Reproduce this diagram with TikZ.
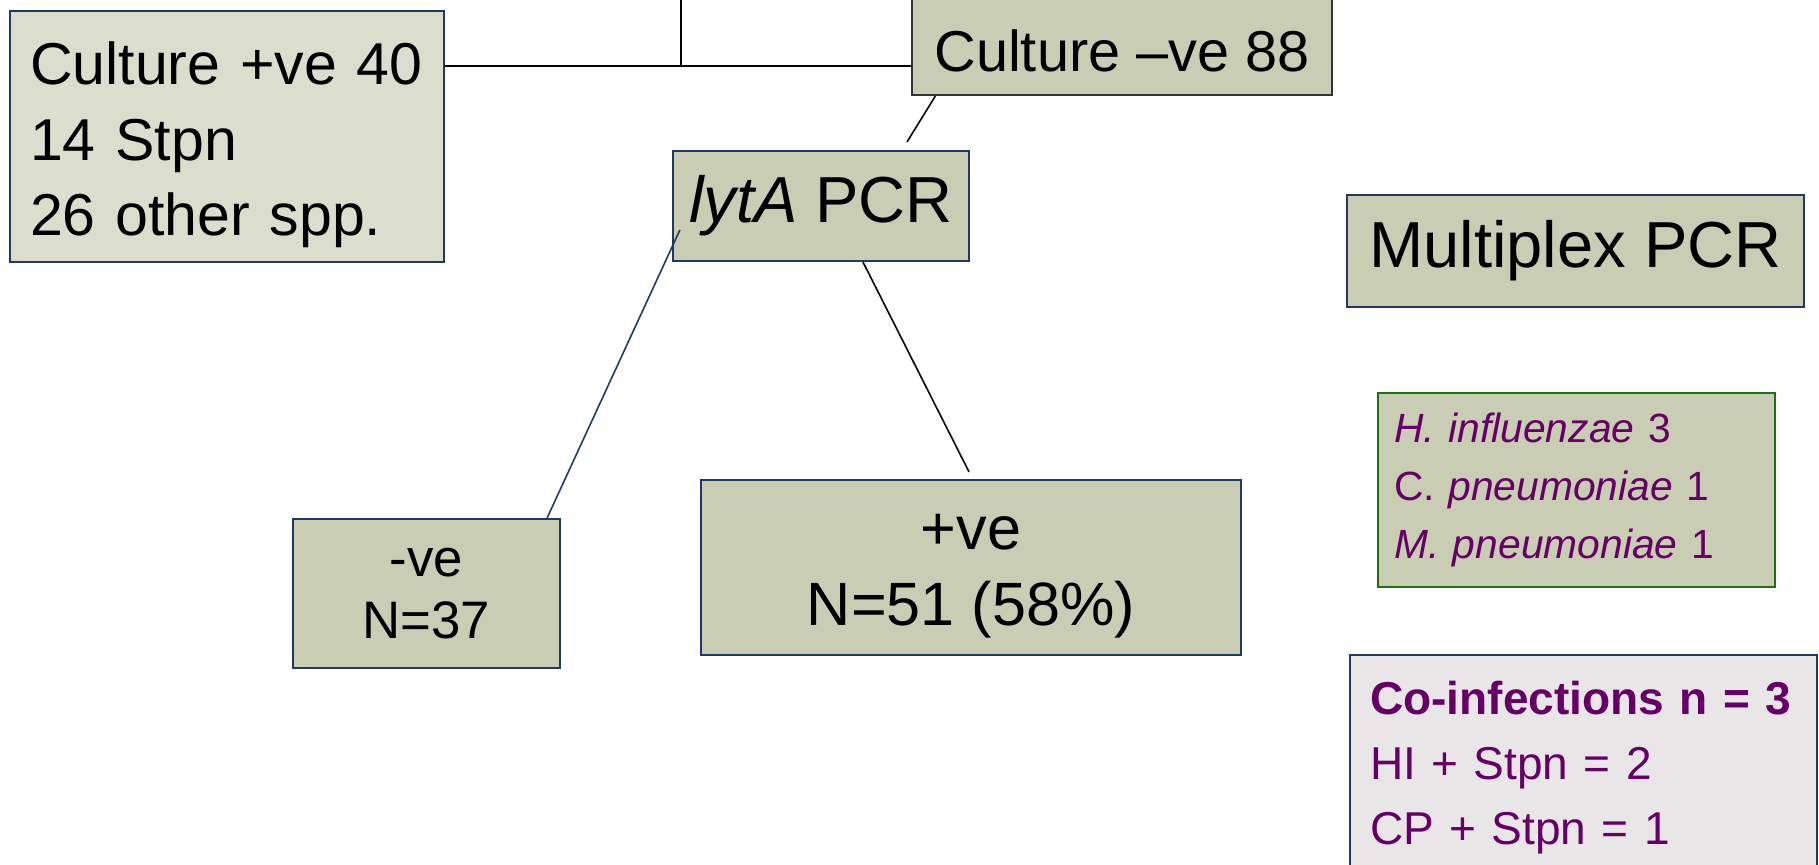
\documentclass[tikz,border=0pt]{standalone}
\usepackage{fontspec}
\setmainfont{Liberation Sans}
\usetikzlibrary{calc}
\definecolor{boxfill}{RGB}{201,205,180}
\definecolor{palefill}{RGB}{220,222,205}
\definecolor{greyfill}{RGB}{233,230,232}
\definecolor{navy}{RGB}{31,56,100}
\definecolor{leafgreen}{RGB}{30,110,20}
\definecolor{plum}{RGB}{102,0,102}
\tikzset{
  box/.style={draw=navy, line width=0.6pt, fill=boxfill, inner sep=0pt},
  link/.style={line width=0.45pt},
}
\begin{document}
\begin{tikzpicture}[x=0.01cm, y=-0.01cm]
              \useasboundingbox (0,0) rectangle (1819,864);
              \clip (0,0) rectangle (1819,864);
              \node (culpos) at (9,10) [box, fill=palefill, anchor=north west, minimum height=2.51cm, text width=4.1cm, inner xsep=0.12cm, align=left, font=\fontsize{16.8}{21.6}\selectfont] {\rule{0pt}{1em}\hspace{0.08cm}Culture +ve 40\\\hspace{0.08cm}14 Stpn\\\hspace{0.08cm}26 other spp.};
              \node (culneg) at (1122,72) [box, draw=black!80, anchor=base, minimum width=4.19cm, text height=0.84cm, text depth=0.23cm, font=\fontsize{16.4}{20}\selectfont] {Culture –ve 88};
              \node (lyta) at (821,206) [box, minimum width=2.96cm, minimum height=1.10cm, font=\fontsize{18.5}{22}\selectfont] {\textit{lytA} PCR};
              \node (multi) at (1575.5,251) [box, minimum width=4.57cm, minimum height=1.12cm, font=\fontsize{18.5}{22}\selectfont] {Multiplex PCR};
              \node (neg) at (426.5,593.5) [box, minimum width=2.67cm, minimum height=1.49cm, align=center, font=\fontsize{15}{17.4}\selectfont] {-ve\\N=37};
              \node (pos) at (971,567.5) [box, minimum width=5.40cm, minimum height=1.75cm, align=center, font=\fontsize{17.4}{21.6}\selectfont] {\rule{0pt}{0.85em}+ve\\N=51 (58\%)};
              \node (spp) at (1377,392) [box, draw=leafgreen, anchor=north west, minimum height=1.94cm, text width=3.65cm, inner xsep=0.16cm, align=left, text=plum, font=\fontsize{11.6}{16.4}\selectfont] {\textit{H. influenzae} 3\\C. \textit{pneumoniae} 1\\\textit{M. pneumoniae} 1};
              \node (coinf) at (1349,654) [box, fill=greyfill, anchor=north west, minimum height=2.25cm, text width=4.27cm, inner xsep=0.2cm, align=left, text=plum, font=\fontsize{13.1}{18.5}\selectfont] {\textbf{Co-infections n = 3}\\HI + Stpn = 2\\CP + Stpn = 1};
              \coordinate (junc) at (681,66);
              \coordinate (top) at (681,0);
              \coordinate (cn-end) at (907,142);
              \draw[link] (culpos.east |- junc) -- (culneg.west |- junc);
              \draw[link] (junc) -- (top);
              \draw[link] ($(culneg.south west)+(24,0)$) -- (cn-end);
              \draw[link, navy] ($(lyta.west)+(8,24)$) -- ($(neg.north east)+(-14,0)$);
              \draw[link] ($(lyta.south)+(42,0)$) -- ($(pos.north)+(-2,-7)$);
        \end{tikzpicture}
\end{document}
